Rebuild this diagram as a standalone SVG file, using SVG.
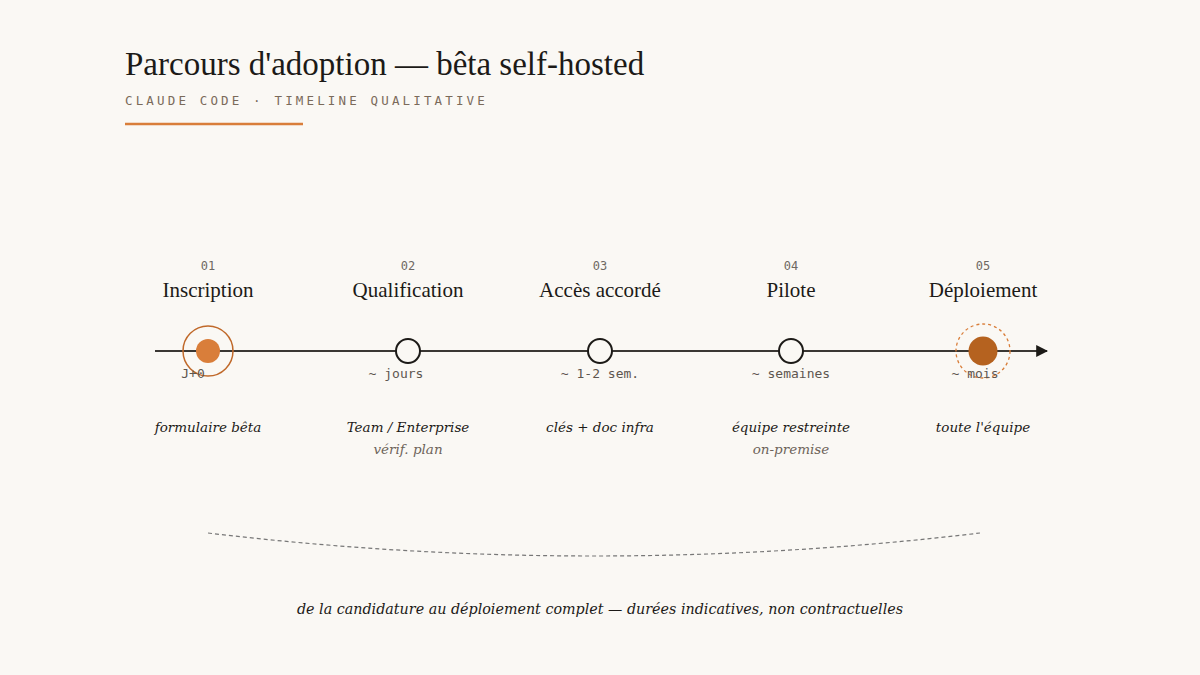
<svg xmlns="http://www.w3.org/2000/svg" width="1200" height="675" viewBox="0 0 1200 675">
<defs>
<style>
.title{font-family:"Liberation Serif","DejaVu Serif",serif;font-size:33px;fill:#1c1a17}
.sub{font-family:"DejaVu Sans Mono","Liberation Mono",monospace;font-size:12.5px;fill:#7a6a5a;letter-spacing:3.15px}
.num{font-family:"DejaVu Sans Mono","Liberation Mono",monospace;font-size:12px;fill:#6e6862;text-anchor:middle}
.name{font-family:"Liberation Serif","DejaVu Serif",serif;font-size:21px;fill:#1c1a17;text-anchor:middle}
.dur{font-family:"DejaVu Sans Mono","Liberation Mono",monospace;font-size:13px;fill:#5e564f;text-anchor:middle}
.desc{font-family:"DejaVu Serif","Liberation Serif",serif;font-style:italic;font-size:13.5px;fill:#1c1a17;text-anchor:middle}
.desc2{font-family:"DejaVu Serif","Liberation Serif",serif;font-style:italic;font-size:13.5px;fill:#6e645a;text-anchor:middle}
.foot{font-family:"DejaVu Serif","Liberation Serif",serif;font-style:italic;font-size:14.3px;fill:#1c1a17;text-anchor:middle}
.dot{fill:#faf8f4;stroke:#1c1a17;stroke-width:2}
</style>
<marker id="arr" viewBox="0 0 10 10" refX="9" refY="5" markerWidth="12" markerHeight="12" markerUnits="userSpaceOnUse" orient="auto">
<path d="M0,0 L10,5 L0,10 z" fill="#1c1a17"/>
</marker>
</defs>
<rect width="1200" height="675" fill="#faf8f4"/>
<g id="header">
<text class="title" x="125" y="75">Parcours d'adoption — bêta self-hosted</text>
<text class="sub" x="125" y="105">CLAUDE CODE · TIMELINE QUALITATIVE</text>
<line x1="125" y1="124" x2="303" y2="124" stroke="#d97e3a" stroke-width="2.5"/>
</g>
<g id="connectors">
<line x1="155" y1="351" x2="1047" y2="351" stroke="#3a3733" stroke-width="2" marker-end="url(#arr)"/>
<path d="M208,533 Q594,579 980,533" fill="none" stroke="#777" stroke-width="1.2" stroke-dasharray="4 3"/>
</g>
<g id="n1">
<text class="num" x="208" y="270">01</text>
<text class="name" x="208" y="297">Inscription</text>
<circle cx="208" cy="351" r="25" fill="none" stroke="#c0692a" stroke-width="1.5"/>
<circle cx="208" cy="351" r="12" fill="#d97e3a"/>
<text class="dur" x="193" y="378">J+0</text>
<text class="desc" x="208" y="432">formulaire bêta</text>
</g>
<g id="n2">
<text class="num" x="408" y="270">02</text>
<text class="name" x="408" y="297">Qualification</text>
<circle class="dot" cx="408" cy="351" r="12"/>
<text class="dur" x="396" y="378">~ jours</text>
<text class="desc" x="408" y="432">Team / Enterprise</text>
<text class="desc2" x="408" y="454">vérif. plan</text>
</g>
<g id="n3">
<text class="num" x="600" y="270">03</text>
<text class="name" x="600" y="297">Accès accordé</text>
<circle class="dot" cx="600" cy="351" r="12"/>
<text class="dur" x="600" y="378">~ 1-2 sem.</text>
<text class="desc" x="600" y="432">clés + doc infra</text>
</g>
<g id="n4">
<text class="num" x="791" y="270">04</text>
<text class="name" x="791" y="297">Pilote</text>
<circle class="dot" cx="791" cy="351" r="12"/>
<text class="dur" x="791" y="378">~ semaines</text>
<text class="desc" x="791" y="432">équipe restreinte</text>
<text class="desc2" x="791" y="454">on-premise</text>
</g>
<g id="n5">
<text class="num" x="983" y="270">05</text>
<text class="name" x="983" y="297">Déploiement</text>
<circle cx="983" cy="351" r="27" fill="none" stroke="#d97e3a" stroke-width="1.3" stroke-dasharray="3 3"/>
<circle cx="983" cy="351" r="14.5" fill="#b5621f"/>
<text class="dur" x="975" y="378">~ mois</text>
<text class="desc" x="983" y="432">toute l'équipe</text>
</g>
<g id="footer">
<text class="foot" x="600" y="614">de la candidature au déploiement complet — durées indicatives, non contractuelles</text>
</g>
</svg>
